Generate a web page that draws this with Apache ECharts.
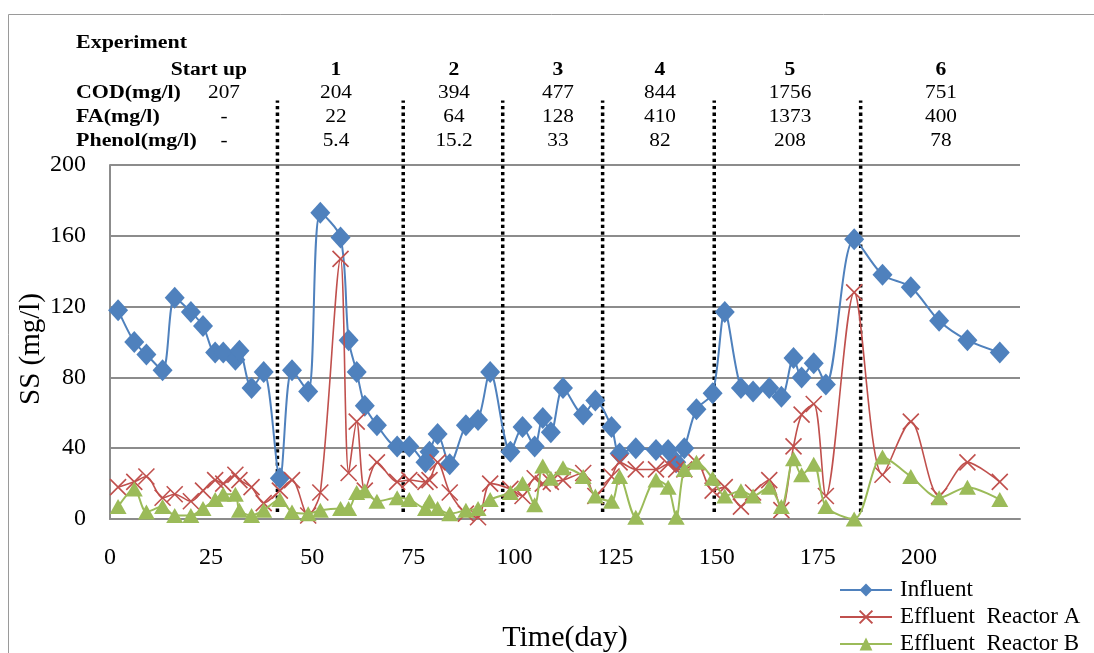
<!DOCTYPE html>
<html>
<head>
<meta charset="utf-8">
<title>SS profile</title>
<script src="https://cdn.jsdelivr.net/npm/echarts@6/dist/echarts.min.js"></script>
<style>
  html, body { margin: 0; padding: 0; background: #ffffff; }
  #chart { width: 1094px; height: 653px; }
</style>
</head>
<body>
<div id="chart"></div>
<script>
// Sampling days (day of operation)
const days = [2,6,9,13,16,20,23,26,28,31,32,35,38,42,45,49,52,57,59,61,63,66,71,74,78,79,81,84,88,91,94,99,102,105,107,109,112,117,120,124,126,130,135,138,140,142,145,149,152,156,159,163,166,169,171,174,177,184,191,198,205,212,220];

// Suspended solids, mg/l
const influent = [118,100,93,84,125,117,109,94,94,90,95,74,83,23,84,72,173,159,101,83,64,53,41,41,32,38,48,31,53,56,83,38,52,41,57,49,74,59,67,52,37,40,39,39,32,40,62,71,117,74,72,74,69,91,80,88,76,158,138,131,112,101,94];
const effluentA = [18,21,24,12,14,10,16,22,20,25,22,18,9,16,22,2,15,147,26,55,16,32,21,22,21,22,32,15,3,1,20,17,13,23,20,21,22,26,13,24,32,28,28,31,28,28,32,16,18,7,15,22,5,41,59,65,13,128,25,55,13,32,21];
const effluentB = [7,17,4,7,2,2,6,11,14,14,5,2,5,11,4,3,5,6,6,15,16,10,12,11,6,10,6,3,5,6,11,15,20,8,30,23,29,24,13,10,24,1,22,18,1,28,32,23,13,16,13,18,7,34,25,31,7,0,35,24,12,18,11];

// Day at which each new experiment phase starts
const phaseBoundaries = [41.4, 72.5, 97.1, 121.8, 149.4, 185.6];

// Feed composition for each phase
const experiments = ['Start up','1','2','3','4','5','6'];
const codValues = ['207','204','394','477','844','1756','751'];
const faValues = ['-','22','64','128','410','1373','400'];
const phenolValues = ['-','5.4','15.2','33','82','208','78'];
const rowLabels = ['COD(mg/l)','FA(mg/l)','Phenol(mg/l)'];

const seriesNames = ['Influent','Effluent  Reactor A','Effluent  Reactor B'];

const FONT = '"Liberation Serif", "Times New Roman", serif';
const BLUE = '#4F81BD', RED = '#C0504D', GREEN = '#9BBB59';

function pairs(vals) { return days.map((d, i) => [d, vals[i]]); }

// Layout of the composition table above the plot
const colX = [224, 336, 454, 558, 660, 790, 941];
const rowY = { title: 43, head: 70, cod: 93, fa: 117, phenol: 141 };
const labelX = 76;

const graphics = [];
function txt(text, x, y, opts, sx) {
  graphics.push({
    type: 'text', x: x, y: y, scaleX: sx || 1.12, silent: true,
    style: Object.assign({
      text: text, fill: '#000', textAlign: 'center', textVerticalAlign: 'middle', verticalAlign: 'middle',
      font: '19px ' + FONT
    }, opts || {})
  });
}
// outer frame
graphics.push({ type: 'rect', silent: true, shape: { x: 8.5, y: 14.5, width: 1200, height: 800 },
  style: { fill: 'none', stroke: '#9a9a9a', lineWidth: 1 } });

const BOLD = 'bold 18px ' + FONT;
txt('Experiment', labelX, rowY.title, { textAlign: 'left', font: BOLD }, 1.22);
txt(experiments[0], 247, rowY.head, { textAlign: 'right', font: BOLD }, 1.2);
for (let i = 1; i < experiments.length; i++) {
  txt(experiments[i], colX[i], rowY.head, { font: BOLD }, 1.2);
}
const rows = [[rowLabels[0], codValues, rowY.cod], [rowLabels[1], faValues, rowY.fa], [rowLabels[2], phenolValues, rowY.phenol]];
rows.forEach(([label, vals, y]) => {
  txt(label, labelX, y, { textAlign: 'left', font: BOLD }, 1.22);
  vals.forEach((v, i) => txt(v, colX[i], y));
});

// dotted phase separators, running from the plot up into the table
const dividerSeries = phaseBoundaries.map(d => ({
  type: 'line', name: 'phase', silent: true, clip: false, symbol: 'none',
  data: [[d, 4], [d, 236.5]],
  lineStyle: { color: '#000', width: 3.5, type: [3.3, 3.3], cap: 'butt' },
  z: 1
}));

const chart = echarts.init(document.getElementById('chart'), null, { renderer: 'canvas' });
chart.setOption({
  backgroundColor: '#ffffff',
  animation: false,
  grid: { left: 110, top: 165, right: 74, bottom: 134, containLabel: false, outerBoundsMode: 'none' },
  legend: {
    data: seriesNames,
    orient: 'vertical', left: 839, top: 578, height: 120, padding: 0,
    itemWidth: 52, itemHeight: 16, itemGap: 3,
    textStyle: { fontFamily: FONT, fontSize: 23, color: '#000', lineHeight: 24, padding: [0, 0, 0, 3] }
  },
  xAxis: {
    type: 'value', min: 0, max: 225, interval: 25,
    name: 'Time(day)', nameLocation: 'middle', nameGap: 104, nameMoveOverlap: false,
    nameTextStyle: { fontFamily: FONT, fontSize: 30, color: '#000' },
    axisLine: { show: true, lineStyle: { color: '#8c8c8c', width: 2 } },
    axisTick: { show: false },
    splitLine: { show: false },
    axisLabel: {
      margin: 27, fontFamily: FONT, fontSize: 24, color: '#000',
      formatter: v => (v > 200 ? '' : String(v))
    }
  },
  yAxis: {
    type: 'value', min: 0, max: 200, interval: 40,
    name: 'SS (mg/l)', nameLocation: 'middle', nameGap: 64, nameRotate: 90, nameMoveOverlap: false,
    nameTextStyle: { fontFamily: FONT, fontSize: 29, color: '#000', padding: [0, 14, 0, 0] },
    axisLine: { show: true, lineStyle: { color: '#8c8c8c', width: 2 } },
    axisTick: { show: false },
    splitLine: { show: true, lineStyle: { color: '#8c8c8c', width: 2 } },
    axisLabel: { margin: 24, fontFamily: FONT, fontSize: 24, color: '#000' }
  },
  series: dividerSeries.concat([
    {
      type: 'line', name: seriesNames[0], data: pairs(influent), smooth: 0.3,
      symbol: 'diamond', symbolSize: [20, 22],
      lineStyle: { color: BLUE, width: 2 },
      itemStyle: { color: BLUE }, z: 3
    },
    {
      type: 'line', name: seriesNames[1], data: pairs(effluentA), smooth: 0.3,
      symbol: 'path://M0,0L10,10M10,0L0,10', symbolSize: 16,
      lineStyle: { color: RED, width: 1.6 },
      itemStyle: { color: RED, borderColor: RED, borderWidth: 1.6 }, z: 4
    },
    {
      type: 'line', name: seriesNames[2], data: pairs(effluentB), smooth: 0.3,
      symbol: 'triangle', symbolSize: [17, 15],
      lineStyle: { color: GREEN, width: 2 },
      itemStyle: { color: GREEN }, z: 5
    }
  ]),
  graphic: graphics
});
</script>
</body>
</html>
